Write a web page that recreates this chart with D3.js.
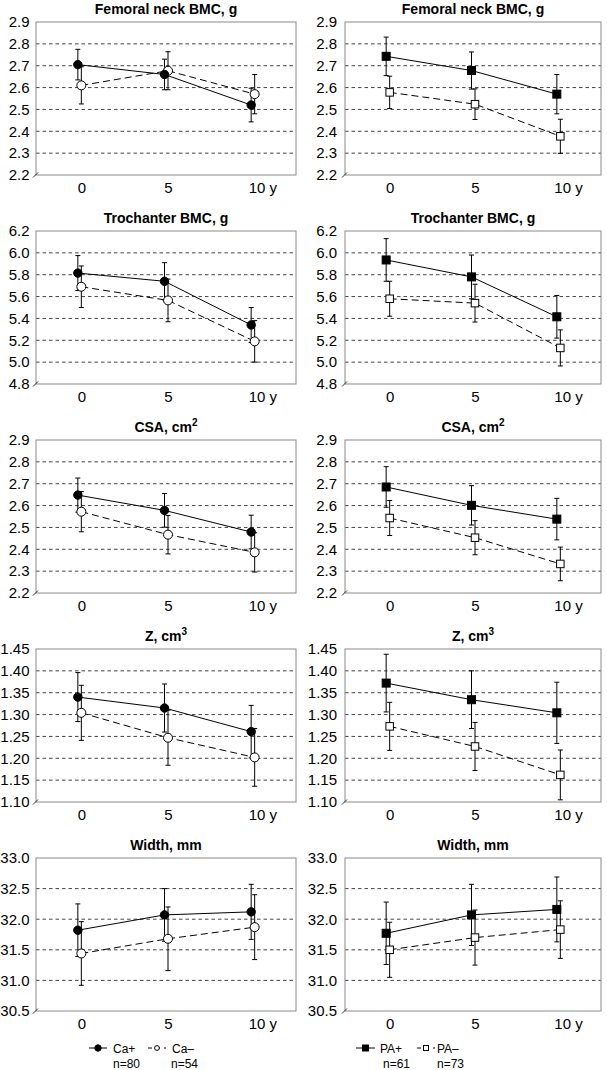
<!DOCTYPE html>
<html><head><meta charset="utf-8">
<script src="https://cdn.jsdelivr.net/npm/d3@7/dist/d3.min.js"></script>
<style>
html,body{margin:0;padding:0;background:#fff;}
svg{display:block;font-family:"Liberation Sans",Arial,Helvetica,sans-serif;}
</style></head>
<body>
<svg id="chart" width="607" height="1070"></svg>
<script>
// ---------- DATA ----------
const timepoints = ["0", "5", "10 y"];
const panelTitles = ["Femoral neck BMC, g", "Trochanter BMC, g", "CSA, cm", "Z, cm", "Width, mm"];
const titleSuperscripts = ["", "", "2", "3", ""];
const yTickLabels = [
  ["2.2","2.3","2.4","2.5","2.6","2.7","2.8","2.9"],
  ["4.8","5.0","5.2","5.4","5.6","5.8","6.0","6.2"],
  ["2.2","2.3","2.4","2.5","2.6","2.7","2.8","2.9"],
  ["1.10","1.15","1.20","1.25","1.30","1.35","1.40","1.45"],
  ["30.5","31.0","31.5","32.0","32.5","33.0"]
];
const caPlusMean = [
  [2.705, 2.66, 2.52],
  [5.815, 5.74, 5.34],
  [2.648, 2.578, 2.479],
  [1.340, 1.315, 1.261],
  [31.82, 32.07, 32.12]
];
const caPlusErr = [
  [0.07, 0.07, 0.077],
  [0.16, 0.17, 0.16],
  [0.078, 0.077, 0.077],
  [0.056, 0.055, 0.06],
  [0.43, 0.43, 0.45]
];
const caMinusMean = [
  [2.61, 2.677, 2.57],
  [5.69, 5.565, 5.19],
  [2.572, 2.467, 2.386],
  [1.304, 1.247, 1.202],
  [31.44, 31.68, 31.87]
];
const caMinusErr = [
  [0.085, 0.087, 0.09],
  [0.19, 0.195, 0.19],
  [0.092, 0.088, 0.09],
  [0.063, 0.063, 0.066],
  [0.52, 0.52, 0.53]
];
const paPlusMean = [
  [2.743, 2.678, 2.57],
  [5.935, 5.78, 5.415],
  [2.685, 2.601, 2.538],
  [1.372, 1.334, 1.304],
  [31.77, 32.07, 32.16]
];
const paPlusErr = [
  [0.088, 0.085, 0.09],
  [0.195, 0.2, 0.195],
  [0.093, 0.09, 0.095],
  [0.066, 0.066, 0.07],
  [0.51, 0.5, 0.53]
];
const paMinusMean = [
  [2.578, 2.524, 2.377],
  [5.58, 5.54, 5.13],
  [2.543, 2.453, 2.333],
  [1.273, 1.227, 1.162],
  [31.5, 31.7, 31.83]
];
const paMinusErr = [
  [0.074, 0.07, 0.078],
  [0.16, 0.173, 0.165],
  [0.08, 0.078, 0.077],
  [0.055, 0.055, 0.057],
  [0.45, 0.45, 0.47]
];
const caLegendLabels = ["Ca+", "Ca\u2013"];
const caLegendCounts = ["n=80", "n=54"];
const paLegendLabels = ["PA+", "PA\u2013"];
const paLegendCounts = ["n=61", "n=73"];

// ---------- LAYOUT ----------
const svg = d3.select("#chart");
const columns = [
  {x0: 36, x1: 296, labelGap: 6.5, marker: "circle",
   plus: caPlusMean, plusErr: caPlusErr, minus: caMinusMean, minusErr: caMinusErr},
  {x0: 345, x1: 601, labelGap: 8, marker: "square",
   plus: paPlusMean, plusErr: paPlusErr, minus: paMinusMean, minusErr: paMinusErr}
];
const rowTop0 = 22, rowStep = 209, plotH = 153;

function drawMarker(g, type, filled, x, y, legend) {
  if (type === "circle") {
    g.append("circle").attr("cx", x).attr("cy", y)
      .attr("r", legend ? (filled ? 3.2 : 2.4) : (filled ? 4.2 : 4.5))
      .attr("fill", filled ? "#000" : "#fff").attr("stroke", "#000").attr("stroke-width", 1);
  } else {
    const s = legend ? (filled ? 6 : 5) : (filled ? 8 : 7.5);
    g.append("rect").attr("x", x - s/2).attr("y", y - s/2).attr("width", s).attr("height", s)
      .attr("fill", filled ? "#000" : "#fff").attr("stroke", "#000").attr("stroke-width", 1);
  }
}

panelTitles.forEach((title, r) => {
  const top = rowTop0 + r * rowStep, bottom = top + plotH;
  const ticks = yTickLabels[r].map(Number);
  columns.forEach(col => {
    const g = svg.append("g");
    const x = d3.scalePoint().domain(timepoints).range([col.x0, col.x1]).padding(0.5);
    const y = d3.scaleLinear().domain(d3.extent(ticks)).range([bottom, top]);

    // gridlines
    g.selectAll(".grid").data(ticks.slice(1, -1)).enter().append("line")
      .attr("x1", col.x0).attr("x2", col.x1)
      .attr("y1", d => y(d)).attr("y2", d => y(d))
      .attr("stroke", "#444").attr("stroke-width", 1).attr("stroke-dasharray", "3.5,3");
    // border
    g.append("rect").attr("x", col.x0).attr("y", top).attr("width", col.x1 - col.x0).attr("height", plotH)
      .attr("fill", "none").attr("stroke", "#8a8a8a").attr("stroke-width", 1);
    // axis break mark
    g.append("line").attr("x1", col.x0 - 3).attr("y1", bottom + 2.5).attr("x2", col.x0 + 2).attr("y2", bottom - 2.5)
      .attr("stroke", "#333").attr("stroke-width", 1);

    // y axis labels
    const yAxis = d3.axisLeft(y).tickValues(ticks).tickFormat((d, i) => yTickLabels[r][i]).tickSize(0).tickPadding(col.labelGap);
    const ya = g.append("g").attr("transform", `translate(${col.x0},0)`).call(yAxis);
    ya.select(".domain").remove();
    ya.selectAll("text").attr("font-size", 15).attr("fill", "#000")
      .attr("font-family", "'Liberation Sans',Arial,sans-serif");

    // x axis labels
    const xAxis = d3.axisBottom(x).tickSize(0).tickPadding(0);
    const xa = g.append("g").attr("transform", `translate(0,${bottom})`).call(xAxis);
    xa.select(".domain").remove();
    xa.selectAll("text").attr("font-size", 15).attr("fill", "#000")
      .attr("font-family", "'Liberation Sans',Arial,sans-serif")
      .attr("y", 18).attr("dy", 0)
      .attr("text-anchor", (d, i) => i === timepoints.length - 1 ? "start" : "middle")
      .attr("x", (d, i) => i === timepoints.length - 1 ? -4.5 : 2);

    // title
    const t = g.append("text").attr("x", (col.x0 + col.x1) / 2).attr("y", top - 8.5)
      .attr("text-anchor", "middle").attr("font-weight", "bold").attr("font-size", 14).text(title);
    if (titleSuperscripts[r]) {
      t.append("tspan").attr("font-size", 10).attr("dy", -6).text(titleSuperscripts[r]);
    }

    const series = [
      {mean: col.plus[r], err: col.plusErr[r], filled: true, dash: null, dx: -1.5},
      {mean: col.minus[r], err: col.minusErr[r], filled: false, dash: "7,4", dx: 2}
    ];
    // connecting lines
    series.forEach(s => {
      const line = d3.line().x((d, i) => x(timepoints[i]) + s.dx).y(d => y(d));
      g.append("path").attr("d", line(s.mean)).attr("fill", "none").attr("stroke", "#000")
        .attr("stroke-width", 1).attr("stroke-dasharray", s.dash);
    });
    // error bars
    series.forEach(s => {
      s.mean.forEach((m, i) => {
        const cx = x(timepoints[i]) + s.dx;
        const yt = y(m + s.err[i]), yb = y(m - s.err[i]);
        g.append("line").attr("x1", cx).attr("x2", cx).attr("y1", yt).attr("y2", yb).attr("stroke", "#000").attr("stroke-width", 1);
        [yt, yb].forEach(yy => g.append("line").attr("x1", cx - 2.5).attr("x2", cx + 2.5).attr("y1", yy).attr("y2", yy)
          .attr("stroke", "#000").attr("stroke-width", 1));
      });
    });
    // markers (open first, then filled)
    [series[1], series[0]].forEach(s => {
      s.mean.forEach((m, i) => drawMarker(g, col.marker, s.filled, x(timepoints[i]) + s.dx, y(m), false));
    });
  });
});

// ---------- LEGENDS ----------
function legend(type, labels, counts, items) {
  const g = svg.append("g").attr("font-size", 12);
  items.forEach((it, i) => {
    g.append("line").attr("x1", it.lx0).attr("x2", it.lx1).attr("y1", 1048).attr("y2", 1048)
      .attr("stroke", "#000").attr("stroke-width", 1).attr("stroke-dasharray", i === 0 ? null : "4,4");
    drawMarker(g, type, i === 0, (it.lx0 + it.lx1) / 2, 1048, true);
    g.append("text").attr("x", it.tx).attr("y", 1053).text(labels[i]);
    g.append("text").attr("x", it.nx).attr("y", 1067.5).text(counts[i]);
  });
}
legend("circle", caLegendLabels, caLegendCounts, [
  {lx0: 89, lx1: 107, tx: 113, nx: 113},
  {lx0: 148, lx1: 166, tx: 172, nx: 171}
]);
legend("square", paLegendLabels, paLegendCounts, [
  {lx0: 356, lx1: 375, tx: 380, nx: 383},
  {lx0: 417, lx1: 435, tx: 437, nx: 437}
]);
</script>
</body></html>
